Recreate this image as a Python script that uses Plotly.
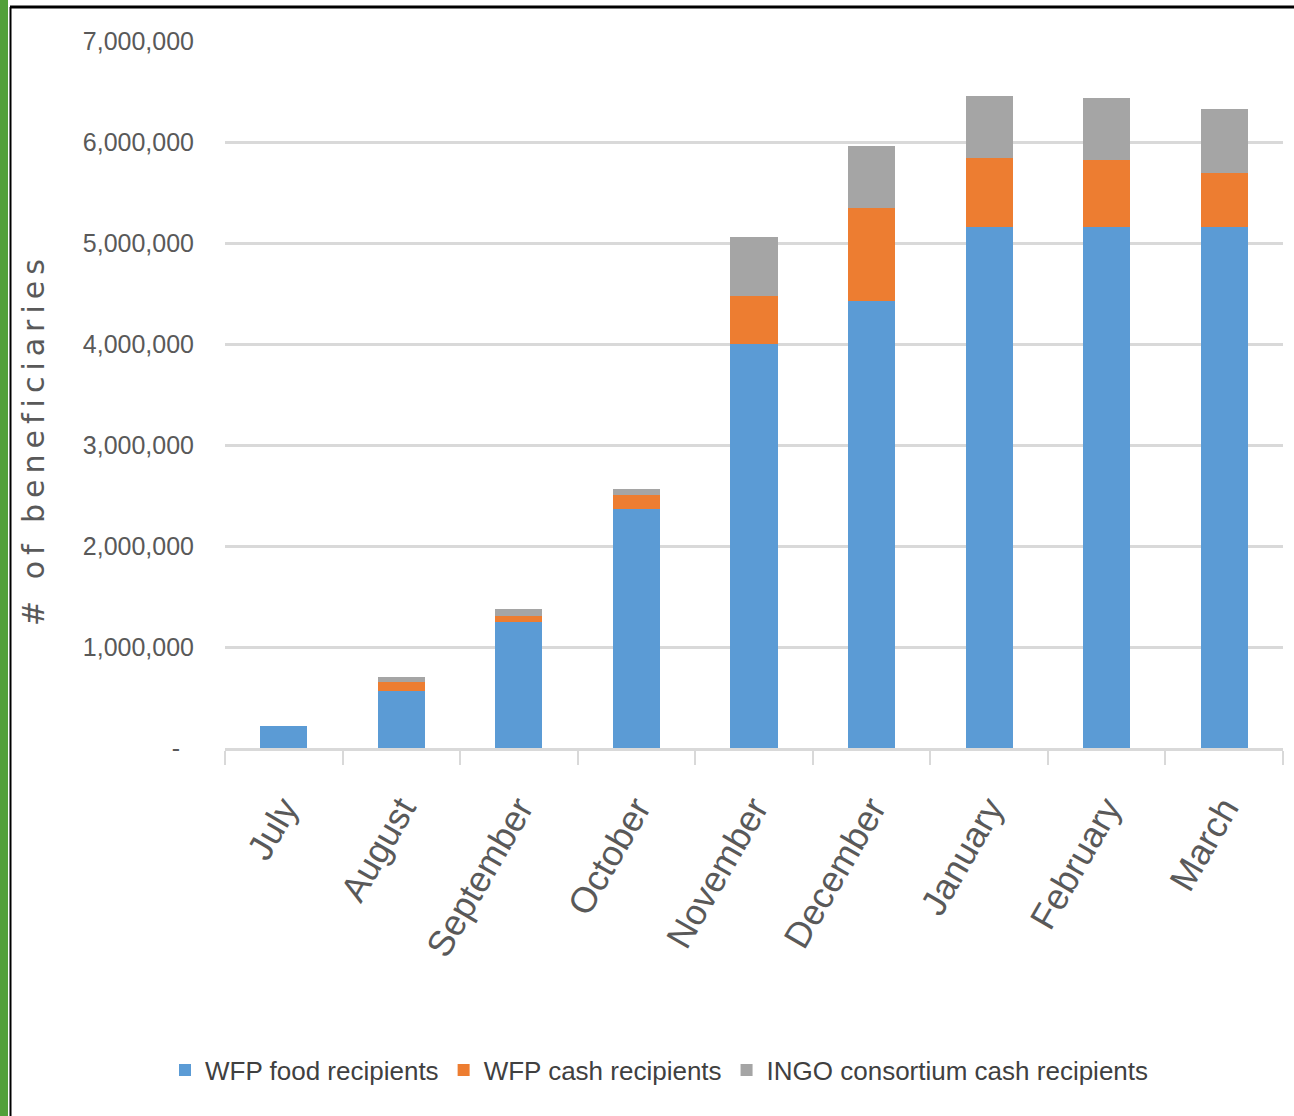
import plotly.graph_objects as go

months = ["July", "August", "September", "October", "November", "December",
          "January", "February", "March"]
wfp_food = [220000, 565000, 1245000, 2365000, 4000000, 4430000, 5155000, 5155000, 5155000]
wfp_cash = [0, 92000, 62000, 140000, 475000, 915000, 683000, 663000, 541000]
ingo_cash = [0, 50000, 66000, 55000, 587000, 611000, 617000, 614000, 631000]

y_tickvals = [0, 1000000, 2000000, 3000000, 4000000, 5000000, 6000000, 7000000]
y_ticktext = ["-\u00a0\u00a0", "1,000,000", "2,000,000", "3,000,000", "4,000,000",
              "5,000,000", "6,000,000", "7,000,000"]

SANS = "Liberation Sans, Arial, sans-serif"
TXT = "#595959"

fig = go.Figure()
fig.add_bar(x=months, y=wfp_food, name="WFP food recipients", marker_color="#5B9BD5",
            marker_line_width=0)
fig.add_bar(x=months, y=wfp_cash, name="WFP cash recipients", marker_color="#ED7D31",
            marker_line_width=0)
fig.add_bar(x=months, y=ingo_cash, name="INGO consortium cash recipients",
            marker_color="#A5A5A5", marker_line_width=0)

L, R, T, B = 225, 1283, 41, 748
W, H = R - L, B - T

def px(x):
    return (x - L) / W

def py(y):
    return (B - y) / H

title_text = "\u2009".join(list("# of beneficiaries"))

fig.update_layout(
    width=1294, height=1116,
    barmode="stack", bargap=0.6,
    margin=dict(l=L, r=1294 - R, t=T, b=1116 - B),
    paper_bgcolor="white", plot_bgcolor="white",
    font=dict(family=SANS, color=TXT, size=26),
    showlegend=True,
    legend=dict(orientation="h", x=px(165), xanchor="left", y=py(1070), yanchor="middle",
                font=dict(family=SANS, size=26, color="#404040"),
                itemwidth=30, traceorder="normal", itemclick=False),
    xaxis=dict(type="category", showgrid=False, showline=True, linecolor="#d9d9d9",
               linewidth=3, ticks="outside", tickson="boundaries", ticklen=14,
               tickcolor="#d9d9d9", tickwidth=2, tickangle=-60,
               ticklabelstandoff=22,
               tickfont=dict(family=SANS, size=36, color=TXT)),
    yaxis=dict(range=[0, 7000000], tickvals=y_tickvals, ticktext=y_ticktext,
               showgrid=True, gridcolor="#d9d9d9", gridwidth=3, zeroline=False,
               showline=False, ticklabelstandoff=30,
               tickfont=dict(family=SANS, size=25, color=TXT)),
    annotations=[dict(text=title_text, x=px(33), y=py(443), xref="paper",
                      yref="paper", textangle=-90, showarrow=False,
                      xanchor="center", yanchor="middle",
                      font=dict(family="DejaVu Sans, Verdana, sans-serif", size=30,
                                color=TXT))],
    shapes=[
        dict(type="rect", xref="paper", yref="paper", x0=px(0), x1=px(8), y0=py(1116),
             y1=py(0), fillcolor="#52a03a", line_width=0, layer="above"),
        dict(type="line", xref="paper", yref="paper", x0=px(10.5), x1=px(10.5),
             y0=py(1116), y1=py(7), line=dict(color="black", width=2)),
        dict(type="line", xref="paper", yref="paper", x0=px(10), x1=px(1294),
             y0=py(7), y1=py(7), line=dict(color="black", width=3)),
    ],
)

fig.write_html("out.html")
